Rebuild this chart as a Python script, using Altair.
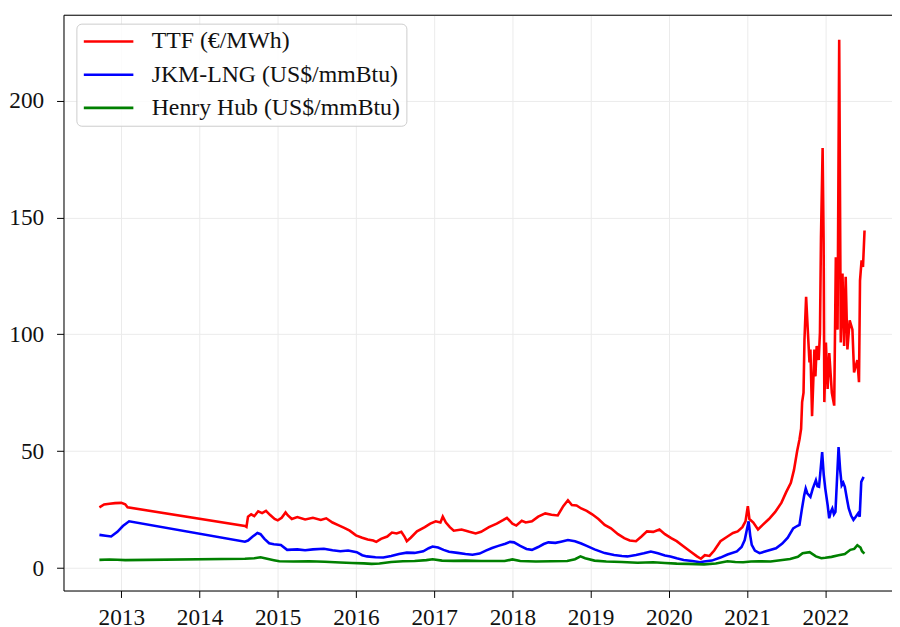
import altair as alt
import pandas as pd

# ---- data (decimal year, value) ----
ttf_year = [2012.72, 2012.78, 2012.85, 2012.92, 2013.0, 2013.05, 2013.08,
            2014.58, 2014.60, 2014.62, 2014.66, 2014.70, 2014.75, 2014.80, 2014.85, 2014.90, 2014.96,
            2015.0, 2015.05, 2015.10, 2015.13, 2015.18, 2015.25, 2015.35, 2015.45, 2015.55, 2015.62,
            2015.70, 2015.78, 2015.85, 2015.92, 2016.0, 2016.08, 2016.15, 2016.22, 2016.26, 2016.32,
            2016.40, 2016.46, 2016.52, 2016.58, 2016.62, 2016.65, 2016.70, 2016.78, 2016.88, 2016.95,
            2017.02, 2017.08, 2017.11, 2017.15, 2017.20, 2017.25, 2017.35, 2017.45, 2017.53, 2017.60,
            2017.70, 2017.80, 2017.88, 2017.93, 2018.0, 2018.05, 2018.12, 2018.17, 2018.25, 2018.33,
            2018.42, 2018.50, 2018.58, 2018.65, 2018.71, 2018.76, 2018.82, 2018.88, 2018.95, 2019.02,
            2019.10, 2019.18, 2019.26, 2019.35, 2019.43, 2019.50, 2019.58, 2019.65, 2019.72, 2019.80,
            2019.88, 2019.95, 2020.03, 2020.10, 2020.19, 2020.28, 2020.36, 2020.41, 2020.46, 2020.52,
            2020.58, 2020.66, 2020.75, 2020.82, 2020.88, 2020.94, 2020.98, 2021.01, 2021.03, 2021.08,
            2021.14, 2021.20, 2021.28, 2021.36, 2021.44, 2021.50, 2021.56, 2021.60, 2021.64, 2021.67,
            2021.691, 2021.704, 2021.722, 2021.734, 2021.755, 2021.776, 2021.798, 2021.810, 2021.831,
            2021.861, 2021.874, 2021.890, 2021.916, 2021.932, 2021.945, 2021.966, 2021.979, 2021.988,
            2022.008, 2022.030, 2022.051, 2022.084, 2022.114, 2022.135, 2022.157, 2022.178, 2022.198,
            2022.220, 2022.241, 2022.261, 2022.283, 2022.312, 2022.347, 2022.368, 2022.410, 2022.431,
            2022.444, 2022.464, 2022.482, 2022.502]
ttf_value = [26.0, 27.2, 27.5, 27.8, 27.9, 27.3, 26.0,
             18.0, 17.6, 22.0, 23.0, 22.2, 24.3, 23.5, 24.5, 22.8, 21.0,
             20.4, 21.5, 23.8, 22.5, 21.0, 21.8, 20.8, 21.5, 20.6, 21.3,
             19.5, 18.3, 17.2, 16.0, 14.0, 13.0, 12.2, 11.8, 11.2, 12.5,
             13.5, 15.2, 14.8, 15.5, 13.5, 11.5, 13.0, 15.7, 17.5, 19.0,
             20.0, 19.5, 22.0, 19.5, 17.5, 16.0, 16.5, 15.5, 14.8, 15.5,
             17.5, 19.0, 20.5, 21.5, 19.0, 18.2, 20.2, 19.5, 20.0, 22.0,
             23.4, 22.8, 22.5, 26.5, 29.0, 27.0, 26.8, 25.5, 24.5, 23.0,
             21.0, 18.5, 17.0, 14.5, 12.8, 11.8, 11.5, 13.5, 15.7, 15.5,
             16.5, 14.5, 12.8, 11.5, 9.2, 7.0, 5.0, 4.0, 5.5, 5.2,
             7.5, 11.5, 13.5, 15.0, 15.7, 17.5, 20.0, 26.5, 21.0, 19.5,
             16.5, 18.5, 21.0, 24.0, 28.0, 32.5, 36.5, 42.0, 50.0, 55.0,
             59.6, 71.0, 75.0, 97.8, 116.0, 102.0, 88.0, 93.5, 65.0,
             93.5, 82.0, 95.0, 89.0, 100.7, 141.5, 179.7, 138.8, 71.0,
             96.5, 76.6, 92.0, 75.0, 69.5, 133.0, 102.0, 226.0, 96.5,
             126.0, 95.0, 124.6, 93.5, 106.0, 102.0, 83.7, 89.0, 79.5,
             123.0, 131.6, 128.8, 144.4]

jkm_year = [2012.72, 2012.80, 2012.87, 2012.95, 2013.02, 2013.10,
            2014.58, 2014.62, 2014.68, 2014.74, 2014.78, 2014.83, 2014.89, 2014.95, 2015.04, 2015.12,
            2015.25, 2015.35, 2015.45, 2015.59, 2015.70, 2015.80, 2015.90, 2016.01, 2016.08, 2016.14,
            2016.25, 2016.35, 2016.45, 2016.55, 2016.65, 2016.75, 2016.86, 2016.93, 2016.98, 2017.05,
            2017.12, 2017.19, 2017.30, 2017.40, 2017.49, 2017.58, 2017.66, 2017.74, 2017.82, 2017.91,
            2017.97, 2018.02, 2018.10, 2018.18, 2018.25, 2018.33, 2018.40, 2018.46, 2018.55, 2018.62,
            2018.71, 2018.80, 2018.88, 2018.95, 2019.05, 2019.18, 2019.30, 2019.40, 2019.47, 2019.58,
            2019.68, 2019.77, 2019.86, 2019.95, 2020.02, 2020.10, 2020.19, 2020.30, 2020.40, 2020.45,
            2020.55, 2020.66, 2020.75, 2020.87, 2020.93, 2020.97, 2021.02, 2021.04, 2021.06, 2021.10,
            2021.16, 2021.25, 2021.37, 2021.45, 2021.52, 2021.59, 2021.64, 2021.67, 2021.70, 2021.73,
            2021.75, 2021.77, 2021.81, 2021.84, 2021.88, 2021.90, 2021.92, 2021.94, 2021.96, 2021.98,
            2022.00, 2022.03, 2022.05, 2022.07, 2022.09, 2022.11, 2022.13, 2022.15, 2022.17, 2022.19,
            2022.21, 2022.23, 2022.25, 2022.28, 2022.30, 2022.33, 2022.36, 2022.39, 2022.42, 2022.44,
            2022.46, 2022.49]
jkm_value = [14.2, 13.8, 13.5, 15.5, 18.0, 20.0,
             11.3, 11.8, 13.5, 15.0, 14.5, 12.5, 10.6, 10.2, 9.9, 7.8,
             8.0, 7.6, 8.0, 8.3, 7.6, 7.2, 7.5, 6.8, 5.5, 5.0,
             4.6, 4.5, 5.2, 6.0, 6.6, 6.5, 7.2, 8.5, 9.2, 8.8,
             7.8, 7.0, 6.5, 6.0, 5.7, 6.2, 7.5, 8.6, 9.5, 10.4,
             11.2, 11.0, 9.5, 8.2, 7.8, 9.0, 10.3, 11.0, 10.8, 11.3,
             12.0, 11.5, 10.5, 9.5, 8.0, 6.4, 5.6, 5.2, 5.0, 5.6,
             6.3, 7.1, 6.3, 5.4, 5.0, 4.2, 3.5, 3.0, 2.5, 2.8,
             3.2, 4.5, 5.8, 7.1, 9.0, 12.0, 20.0, 14.0, 9.9, 7.5,
             6.4, 7.3, 8.5, 10.5, 13.0, 17.0, 18.0, 18.5, 25.0, 31.0,
             34.0, 32.0, 30.5, 34.0, 37.6, 35.0, 34.8, 42.0, 49.6, 40.0,
             34.0, 27.0, 21.3, 24.0, 25.5, 23.0, 24.1, 38.0, 51.8, 42.0,
             35.4, 36.5, 34.8, 29.0, 25.5, 22.5, 20.6, 22.0, 23.4, 22.0,
             36.9, 39.0]

hh_year = [2012.72, 2012.85, 2012.95, 2013.05,
           2014.58, 2014.70, 2014.78, 2014.85, 2014.95, 2015.02, 2015.20, 2015.40, 2015.60, 2015.80,
           2015.95, 2016.10, 2016.20, 2016.30, 2016.45, 2016.60, 2016.75, 2016.90, 2016.98, 2017.10,
           2017.25, 2017.40, 2017.60, 2017.75, 2017.90, 2018.00, 2018.10, 2018.30, 2018.50, 2018.70,
           2018.80, 2018.87, 2018.93, 2019.05, 2019.20, 2019.40, 2019.60, 2019.80, 2019.95, 2020.10,
           2020.25, 2020.45, 2020.60, 2020.75, 2020.85, 2020.95, 2021.05, 2021.15, 2021.30, 2021.45,
           2021.55, 2021.65, 2021.71, 2021.80, 2021.88, 2021.95, 2022.00, 2022.08, 2022.17, 2022.25,
           2022.32, 2022.37, 2022.41, 2022.45, 2022.47, 2022.50]
hh_value = [3.5, 3.7, 3.6, 3.4,
            4.0, 4.2, 4.6, 4.1, 3.4, 2.9, 2.8, 2.9, 2.7, 2.4,
            2.2, 2.0, 1.8, 2.0, 2.6, 2.9, 3.0, 3.4, 3.8, 3.2,
            3.1, 3.2, 3.0, 3.0, 3.0, 3.7, 3.0, 2.8, 2.9, 3.0,
            3.8, 5.0, 4.2, 3.2, 2.8, 2.6, 2.3, 2.5, 2.2, 1.9,
            1.8, 1.6, 2.0, 2.9, 2.6, 2.5, 2.8, 2.9, 2.8, 3.5,
            3.9, 4.8, 6.4, 6.8, 5.0, 4.2, 4.4, 4.8, 5.5, 6.0,
            7.8, 8.2, 9.8, 8.8, 7.2, 6.2]

series_names = ["TTF (€/MWh)", "JKM-LNG (US$/mmBtu)", "Henry Hub (US$/mmBtu)"]
series_colors = ["#ff0000", "#0000ff", "#008000"]
x_ticks = list(range(2013, 2023))
y_ticks = [0, 50, 100, 150, 200]
x_domain = [2012.261, 2022.853]
y_domain = [-9.6, 236.7]

frames = []
for i, (yrs, vals) in enumerate([(ttf_year, ttf_value), (jkm_year, jkm_value), (hh_year, hh_value)]):
    frames.append(pd.DataFrame({"year": yrs, "value": vals, "series": series_names[i], "order": i}))
df = pd.concat(frames, ignore_index=True)

FONT = "Liberation Serif"
TICK_FS = 23.5
xscale = alt.Scale(domain=x_domain, nice=False, zero=False)
yscale = alt.Scale(domain=y_domain, nice=False, zero=False)

y_enc = alt.Y("value:Q", scale=yscale, title=None,
              axis=alt.Axis(values=y_ticks, format="d", grid=True, gridColor="#ebebeb", gridWidth=1,
                            domain=True, domainColor="black", domainWidth=1,
                            tickColor="black", tickSize=7, tickWidth=1,
                            labelFont=FONT, labelFontSize=TICK_FS, labelColor="#111111",
                            labelPadding=13))

lines = alt.Chart(df).mark_line(strokeWidth=2.6).encode(
    x=alt.X("year:Q", scale=xscale, title=None,
            axis=alt.Axis(values=x_ticks, format="d", grid=True, gridColor="#ebebeb", gridWidth=1,
                          domain=True, domainColor="black", domainWidth=1,
                          tickColor="black", tickSize=7, tickWidth=1,
                          labelFont=FONT, labelFontSize=TICK_FS, labelColor="#111111",
                          labelPadding=8, labelFlush=False, labelOverlap=False)),
    y=y_enc,
    color=alt.Color("series:N",
                    scale=alt.Scale(domain=series_names, range=series_colors),
                    legend=alt.Legend(orient="none", legendX=13, legendY=9, title=None,
                                      symbolType="stroke", symbolSize=2500, symbolStrokeWidth=2.6,
                                      clipHeight=24,
                                      labelFont=FONT, labelFontSize=24, labelColor="#111111",
                                      labelOffset=17, rowPadding=9.5, padding=6,
                                      fillColor="rgba(255,255,255,0.85)", strokeColor="#cccccc",
                                      cornerRadius=5, labelLimit=500)),
    order=alt.Order("order:Q"),
)

top_frame = alt.Chart(df).mark_line(opacity=0).encode(
    x=alt.X("year:Q", scale=xscale, title=None,
            axis=alt.Axis(orient="top", labels=False, ticks=False, grid=False,
                          domain=True, domainColor="black", domainWidth=1)),
    y=y_enc,
    detail="series:N",
)

chart = alt.layer(lines, top_frame).resolve_axis(x="independent").properties(
    width=836, height=581,
    autosize=alt.AutoSizeParams(type="none"),
    padding={"left": 56, "top": 4, "right": 0, "bottom": 34},
).configure_view(stroke=None).configure(background="white")

chart.save("out.html", embed_options={"renderer": "svg", "actions": False})
